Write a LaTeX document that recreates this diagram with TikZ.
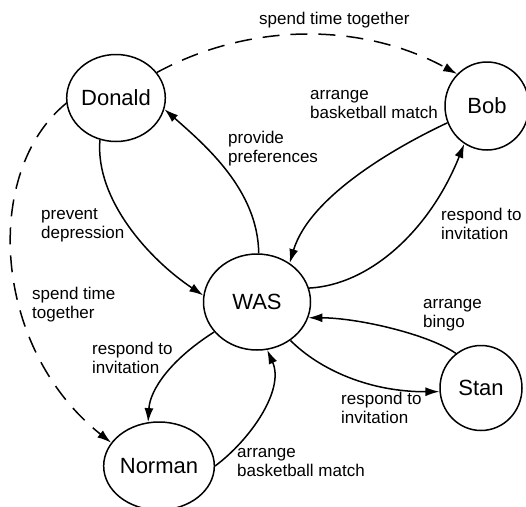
\documentclass[tikz,border=0pt]{standalone}
\usepackage{fontspec}
\setmainfont{Liberation Sans}
\usetikzlibrary{shapes.geometric,arrows.meta}

\tikzset{
  agent/.style={ellipse, draw, line width=1.5pt, inner sep=0pt,
    font=\fontsize{22}{24}\selectfont},
  rel/.style={line width=1.5pt, -{Latex[length=14pt,width=9pt]}},
  social/.style={rel, dash pattern=on 17pt off 11pt},
  lbl/.style={font=\fontsize{17}{18.5}\selectfont, align=left, inner sep=0pt, anchor=base west},
}

\begin{document}
\begin{tikzpicture}[x=1pt,y=-1pt]
  \useasboundingbox[fill=white] (0,0) rectangle (526,506);

  % agents
  \node[agent, minimum width=93pt, minimum height=87pt] (donald) at (116,98) {Donald};
  \node[agent, minimum width=84pt, minimum height=88pt] (bob) at (487,106) {Bob};
  \node[agent, minimum width=107pt, minimum height=96pt] (was) at (257,302) {WAS};
  \node[agent, minimum width=82pt, minimum height=85pt] (stan) at (481,388) {Stan};
  \node[agent, minimum width=95pt, minimum height=88pt] (norman) at (159,466) {Norman};

  % social ties
  \draw[social] (donald.32) .. controls (250,22) and (362,22) .. (bob.133);
  \draw[social] (donald.186) .. controls (-18,172) and (-8,348) .. (norman.154);

  % interactions with the assistant
  \draw[rel] (was.88) .. controls (258,190) and (205,145) .. (donald.347);
  \draw[rel] (donald.249) .. controls (95,200) and (150,260) .. (was.173);
  \draw[rel] (bob.203) .. controls (400,145) and (310,195) .. (was.50);
  \draw[rel] (was.15) .. controls (370,285) and (430,230) .. (bob.239);
  \draw[rel] (stan.126) .. controls (430,335) and (360,318) .. (was.343);
  \draw[rel] (was.311) .. controls (320,370) and (370,392) .. (stan.185);
  \draw[rel] (was.215) .. controls (170,360) and (150,390) .. (norman.104);
  \draw[rel] (norman.0) .. controls (250,440) and (285,390) .. (was.282);

  % labels (anchored at the baseline of their last line)
  \node[lbl] (l1) at (259,24) {spend time together};
  \node[lbl] (l2) at (310,118) {arrange\\basketball match};
  \node[lbl] (l3) at (228,162) {provide\\preferences};
  \node[lbl] (l4) at (41,238) {prevent\\depression};
  \node[lbl] (l5) at (441,239) {respond to\\invitation};
  \node[lbl] (l6) at (32,318) {spend time\\together};
  \node[lbl] (l7) at (92,373) {respond to\\invitation};
  \node[lbl] (l8) at (423,327) {arrange\\bingo};
  \node[lbl] (l9) at (341,423) {respond to\\invitation};
  \node[lbl] (l10) at (237,476) {arrange\\basketball match};
\end{tikzpicture}
\end{document}
